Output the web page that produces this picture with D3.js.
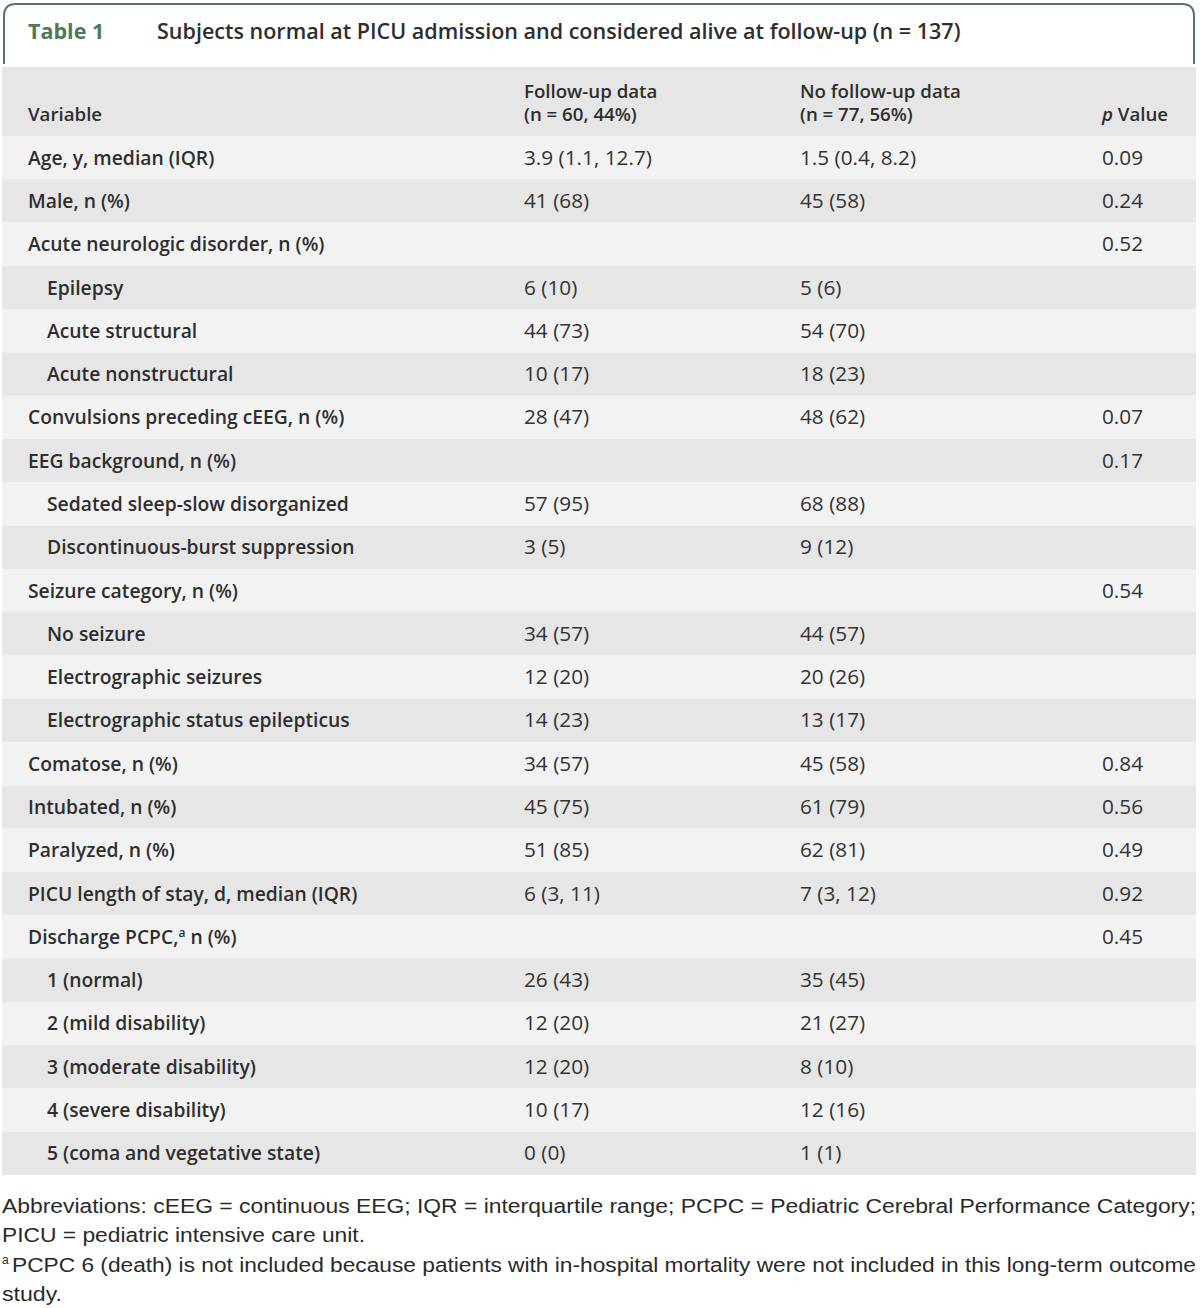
<!DOCTYPE html>
<html><head><meta charset="utf-8">
<script src="https://cdn.jsdelivr.net/npm/d3@7"></script>
<style>body{margin:0;background:#fff}svg{display:block}</style>
</head><body>
<script>
const tableLabel = "Table 1";
const tableTitle = "Subjects normal at PICU admission and considered alive at follow-up (n = 137)";
const headers = [["Variable"], ["Follow-up data", "(n = 60, 44%)"], ["No follow-up data", "(n = 77, 56%)"], ["p Value"]];
const variables = ["Age, y, median (IQR)","Male, n (%)","Acute neurologic disorder, n (%)","Epilepsy","Acute structural","Acute nonstructural","Convulsions preceding cEEG, n (%)","EEG background, n (%)","Sedated sleep-slow disorganized","Discontinuous-burst suppression","Seizure category, n (%)","No seizure","Electrographic seizures","Electrographic status epilepticus","Comatose, n (%)","Intubated, n (%)","Paralyzed, n (%)","PICU length of stay, d, median (IQR)","Discharge PCPC,ª n (%)","1 (normal)","2 (mild disability)","3 (moderate disability)","4 (severe disability)","5 (coma and vegetative state)"];
const indented = [0,0,0,1,1,1,0,0,1,1,0,1,1,1,0,0,0,0,0,1,1,1,1,1];
const followUp = ["3.9 (1.1, 12.7)","41 (68)","","6 (10)","44 (73)","10 (17)","28 (47)","","57 (95)","3 (5)","","34 (57)","12 (20)","14 (23)","34 (57)","45 (75)","51 (85)","6 (3, 11)","","26 (43)","12 (20)","12 (20)","10 (17)","0 (0)"];
const noFollowUp = ["1.5 (0.4, 8.2)","45 (58)","","5 (6)","54 (70)","18 (23)","48 (62)","","68 (88)","9 (12)","","44 (57)","20 (26)","13 (17)","45 (58)","61 (79)","62 (81)","7 (3, 12)","","35 (45)","21 (27)","8 (10)","12 (16)","1 (1)"];
const pValues = ["0.09","0.24","0.52","","","","0.07","0.17","","","0.54","","","","0.84","0.56","0.49","0.92","0.45","","","","",""];
const footnotes = [
 "Abbreviations: cEEG = continuous EEG; IQR = interquartile range; PCPC = Pediatric Cerebral Performance Category;",
 "PICU = pediatric intensive care unit.",
 "PCPC 6 (death) is not included because patients with in-hospital mortality were not included in this long-term outcome",
 "study."
];

const W = 1200, H = 1308;
const svg = d3.select("body").append("svg").attr("width", W).attr("height", H);
const font = "'Open Sans', Lato, sans-serif";
const txt = "#2e2e2e";

function fitSize(sample, target, weight, fam, base) {
  const t = svg.append("text").attr("font-family", fam).attr("font-weight", weight).attr("font-size", base).text(sample);
  const w = t.node().getComputedTextLength();
  t.remove();
  return base * target / w;
}
const titleSize = fitSize(tableTitle, 804, 600, font, 20);
const labelSize = fitSize("Sedated sleep-slow disorganized", 302, 600, font, 19);
const valueSize = fitSize("3.9 (1.1, 12.7)", 128, 400, font, 19);
const headSize = fitSize("No follow-up data", 161, 600, font, 19);

// title box
const bx0 = 4, bx1 = 1194, by0 = 4, by1 = 64, r = 12;
svg.append("path")
  .attr("d", `M${bx0},${by1} L${bx0},${by0+r} Q${bx0},${by0} ${bx0+r},${by0} L${bx1-r},${by0} Q${bx1},${by0} ${bx1},${by0+r} L${bx1},${by1}`)
  .attr("fill","none").attr("stroke","#4d7a58").attr("stroke-width",2);
svg.append("text").attr("x",28).attr("y",39).attr("font-family",font).attr("font-weight",700)
  .attr("font-size",titleSize).attr("fill","#4d7a58").text(tableLabel);
svg.append("text").attr("x",157).attr("y",39).attr("font-family",font).attr("font-weight",600)
  .attr("font-size",titleSize).attr("fill",txt).text(tableTitle);

// header band
const tableTop = 67, headerBottom = 136, tableBottom = 1175;
svg.append("rect").attr("x",2).attr("y",tableTop).attr("width",1194).attr("height",headerBottom-tableTop).attr("fill","#e6e6e6");

const colX = [28, 524, 800, 1102];
headers.forEach((h,i)=>{
  const mk = (yy) => svg.append("text").attr("font-family",font).attr("font-weight",600)
     .attr("font-size",headSize).attr("fill",txt).attr("x",colX[i]).attr("y",yy);
  if (i===3) {
    const t = mk(121);
    t.append("tspan").attr("font-style","italic").text("p");
    t.append("tspan").text(" Value");
  } else if (h.length===1) {
    mk(121).text(h[0]);
  } else {
    const t = mk(98);
    t.append("tspan").attr("x",colX[i]).text(h[0]);
    t.append("tspan").attr("x",colX[i]).attr("dy",23).text(h[1]);
  }
});

const y = d3.scaleBand().domain(d3.range(variables.length)).range([headerBottom, tableBottom]);
const rows = svg.selectAll("g.row").data(variables).join("g").attr("class","row")
  .attr("transform",(d,i)=>`translate(0,${y(i)})`);
rows.append("rect").attr("x",2).attr("width",1194).attr("height",y.bandwidth())
  .attr("fill",(d,i)=> i%2===0 ? "#f2f2f2" : "#e6e6e6");
const ty = y.bandwidth()/2 + 7;
rows.append("text").attr("x",(d,i)=> indented[i] ? 47 : 28).attr("y",ty)
  .attr("font-family",font).attr("font-weight",600).attr("font-size",labelSize).attr("fill",txt)
  .each(function(d){
    const el = d3.select(this);
    if (d.includes("ª")) {
      const parts = d.split("ª");
      el.append("tspan").text(parts[0]);
      el.append("tspan").attr("font-size",12).attr("dy",-7).text("a");
      el.append("tspan").attr("dy",7).text(parts[1]);
    } else el.text(d);
  });
const valCols = [followUp, noFollowUp, pValues];
valCols.forEach((arr,k)=>{
  rows.append("text").attr("x",colX[k+1]).attr("y",ty).attr("font-family",font).attr("font-weight",400)
    .attr("font-size",valueSize).attr("fill","#333").text((d,i)=>arr[i]);
});

// footnotes
const fFont = "'Liberation Sans', Arial, sans-serif";
const fy = [1213, 1242, 1272, 1301];
const fWidths = [1194, 363, 1184, 60];
footnotes.forEach((f,i)=>{
  svg.append("text").attr("x", i===2 ? 12 : 2).attr("y",fy[i]).attr("font-family",fFont)
    .attr("font-size",20).attr("fill","#2a2a2a").text(f)
    .attr("textLength", fWidths[i]).attr("lengthAdjust","spacingAndGlyphs");
  if (i===2) svg.append("text").attr("x",2).attr("y",fy[i]-8).attr("font-family",fFont).attr("font-size",12).attr("fill","#2a2a2a").text("a");
});
</script>
</body></html>
